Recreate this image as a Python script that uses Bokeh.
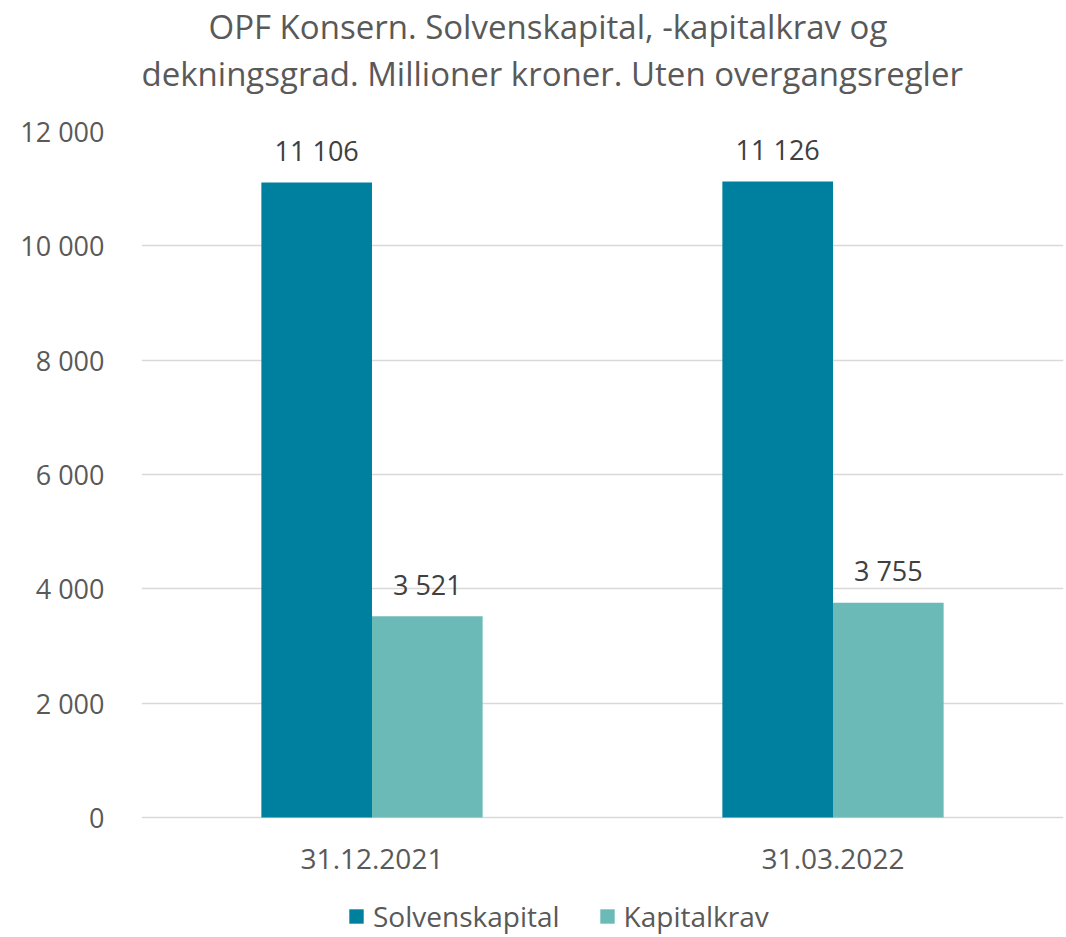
from bokeh.plotting import figure
from bokeh.models import FactorRange, ColumnDataSource, FixedTicker, Title, Legend, LegendItem, Range1d
from bokeh.transform import dodge
from bokeh.core.properties import value
from bokeh.embed import file_html
from bokeh.resources import INLINE

dates = ["31.12.2021", "31.03.2022"]
solvenskapital = [11106, 11126]
kapitalkrav = [3521, 3755]
y_ticks = [0, 2000, 4000, 6000, 8000, 10000, 12000]
y_tick_labels = ["0", "2 000", "4 000", "6 000", "8 000", "10 000", "12 000"]
series_names = ["Solvenskapital", "Kapitalkrav"]
colors = ["#00809F", "#6CBAB8"]
title_line1 = "OPF Konsern. Solvenskapital, -kapitalkrav og"
title_line2 = "dekningsgrad. Millioner kroner. Uten overgangsregler"

FONT = "Open Sans"
TXT = "#595959"
FS = "27px"

# layout: value axis spans 686 px for 0..12000; frame extends 120 px below zero
PLOT_PX = 686
BELOW_PX = 120
Y_MAX = 12000
Y_MIN = -Y_MAX * BELOW_PX / PLOT_PX

src = ColumnDataSource(dict(
    date=dates,
    s=solvenskapital,
    k=kapitalkrav,
    base=[0] * len(dates),
    s_lbl=[f"{v:,}".replace(",", " ") for v in solvenskapital],
    k_lbl=[f"{v:,}".replace(",", " ") for v in kapitalkrav],
))

p = figure(frame_width=922, frame_height=PLOT_PX + BELOW_PX,
           x_range=FactorRange(*dates), y_range=Range1d(Y_MIN, Y_MAX),
           output_backend="svg", toolbar_location=None,
           min_border_left=141, min_border_right=3, min_border_top=131, min_border_bottom=0)
p.outline_line_color = None

r1 = p.vbar(x=dodge("date", -0.12, range=p.x_range), top="s", bottom="base", width=0.24,
            source=src, color=colors[0], line_color=None)
r2 = p.vbar(x=dodge("date", 0.12, range=p.x_range), top="k", bottom="base", width=0.24,
            source=src, color=colors[1], line_color=None)

# value labels
p.text(x=dodge("date", -0.12, range=p.x_range), y="s", text="s_lbl", source=src,
       text_align="center", text_baseline="middle", y_offset=-32,
       text_font=value(FONT), text_font_size=FS, text_color="#404040")
p.text(x=dodge("date", 0.12, range=p.x_range), y="k", text="k_lbl", source=src,
       text_align="center", text_baseline="middle", y_offset=-32,
       text_font=value(FONT), text_font_size=FS, text_color="#404040")

# category labels under the zero line
p.text(x="date", y="base", text="date", source=src,
       text_align="center", text_baseline="middle", y_offset=41,
       text_font=value(FONT), text_font_size="28px", text_color=TXT)

# axes
p.yaxis.ticker = FixedTicker(ticks=y_ticks)
p.yaxis.major_label_overrides = {t: l for t, l in zip(y_ticks, y_tick_labels)}
p.yaxis.axis_line_color = None
p.yaxis.major_tick_line_color = None
p.yaxis.minor_tick_line_color = None
p.yaxis.major_label_text_font = FONT
p.yaxis.major_label_text_font_size = FS
p.yaxis.major_label_text_color = TXT
p.yaxis.major_label_standoff = 31

p.xaxis.visible = False

p.xgrid.grid_line_color = None
p.ygrid.grid_line_color = "#D9D9D9"
p.ygrid.grid_line_width = 1.5

# legend
legend = Legend(items=[LegendItem(label=series_names[0], renderers=[r1]),
                       LegendItem(label=series_names[1], renderers=[r2])],
                orientation="horizontal", location=(206, 2),
                label_text_font=FONT, label_text_font_size="28px", label_text_color=TXT,
                glyph_width=18, glyph_height=18, spacing=38, label_standoff=8,
                border_line_color=None, background_fill_alpha=0, padding=0, margin=0)
p.add_layout(legend)

# title (two lines) with a blank spacer line between title and plot area
spacer = Title(text=" ", align="left", text_font=FONT, text_font_size="25px",
               text_color=TXT, standoff=0)
t2 = Title(text=title_line2, align="left", offset=0,
           text_font=FONT, text_font_size="33px", text_font_style="normal", text_color=TXT,
           standoff=0)
t1 = Title(text=title_line1, align="left", offset=67,
           text_font=FONT, text_font_size="33px", text_font_style="normal", text_color=TXT,
           standoff=0)
p.add_layout(spacer, "above")
p.add_layout(t2, "above")
p.add_layout(t1, "above")

open("out.html", "w").write(file_html(p, INLINE))
